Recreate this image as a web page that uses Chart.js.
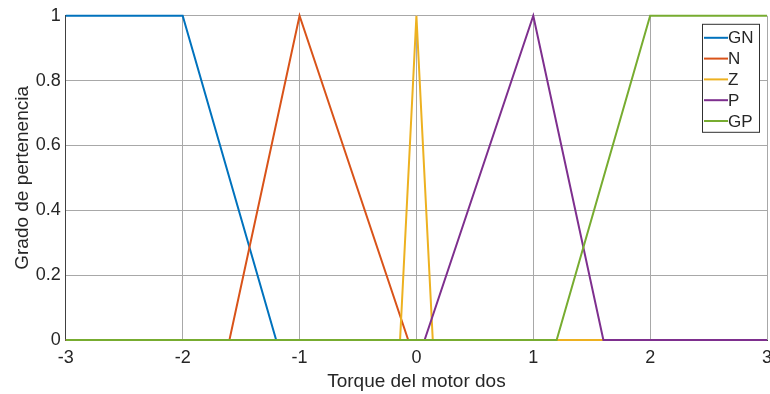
<!DOCTYPE html>
<html>
<head>
<meta charset="utf-8">
<script src="https://cdn.jsdelivr.net/npm/chart.js@4/dist/chart.umd.min.js"></script>
<style>
  html, body { margin: 0; padding: 0; background: #fff; overflow: hidden; }
  #myChart { display: block; }
</style>
</head>
<body>
<canvas id="myChart" width="770" height="394"></canvas>
<script>
// membership functions of "Torque del motor dos" (breakpoints)
var labels = ['GN', 'N', 'Z', 'P', 'GP'];
var gnX = [-3, -2, -1.2, 3];
var gnY = [1, 1, 0, 0];
var nX = [-3, -1.6, -1, -0.07, 3];
var nY = [0, 0, 1, 0, 0];
var zX = [-3, -0.14, 0, 0.14, 3];
var zY = [0, 0, 1, 0, 0];
var pX = [-3, 0.07, 1, 1.6, 3];
var pY = [0, 0, 1, 0, 0];
var gpX = [-3, 1.2, 2, 3];
var gpY = [0, 0, 1, 1];
var xTicks = [-3, -2, -1, 0, 1, 2, 3];
var yTicks = [0, 0.2, 0.4, 0.6, 0.8, 1];

var colors = ['#0072BD', '#D95319', '#EDB120', '#7E2F8E', '#77AC30'];
var FONT = '"Liberation Sans", Arial, sans-serif';

function toPoints(xs, ys) {
  var pts = [];
  for (var i = 0; i < xs.length; i++) {
    pts.push({ x: xs[i], y: ys[i] });
  }
  return pts;
}

var series = [[gnX, gnY], [nX, nY], [zX, zY], [pX, pY], [gpX, gpY]];
var datasets = series.map(function(s, i) {
  return {
    label: labels[i],
    data: toPoints(s[0], s[1]),
    borderColor: colors[i],
    backgroundColor: colors[i],
    borderWidth: 2,
    pointRadius: 0,
    showLine: true,
    fill: false,
    tension: 0,
    clip: false,
    // later curves are painted over the earlier ones
    order: series.length - i
  };
});

/* boxed legend in the top right corner of the plot */
var boxLegend = {
  id: 'boxLegend',
  afterDraw: function(chart) {
    var ctx = chart.ctx;
    var area = chart.chartArea;
    var w = 57, h = 108;
    var x0 = area.right - 65, y0 = area.top + 8;
    ctx.save();
    ctx.fillStyle = '#fff';
    ctx.fillRect(x0, y0, w, h);
    ctx.strokeStyle = '#303030';
    ctx.lineWidth = 1;
    ctx.strokeRect(x0 + 0.5, y0 + 0.5, w, h);
    ctx.font = '17px ' + FONT;
    ctx.textBaseline = 'middle';
    chart.data.datasets.forEach(function(ds, i) {
      var yy = y0 + 14 + i * 20.8;
      ctx.strokeStyle = ds.borderColor;
      ctx.lineWidth = 2;
      ctx.beginPath();
      ctx.moveTo(x0 + 2, yy);
      ctx.lineTo(x0 + 26, yy);
      ctx.stroke();
      ctx.fillStyle = '#262626';
      ctx.fillText(ds.label, x0 + 26, yy + 1);
    });
    ctx.restore();
  }
};

function tickText(value) {
  return String(Math.round(value * 10) / 10);
}

var ctx = document.getElementById('myChart').getContext('2d');
var myChart = new Chart(ctx, {
  type: 'scatter',
  data: { datasets: datasets },
  plugins: [boxLegend],
  options: {
    responsive: false,
    animation: false,
    layout: { padding: { left: 11, right: 0, top: 4, bottom: 3 } },
    plugins: {
      legend: { display: false },
      tooltip: { enabled: false }
    },
    scales: {
      x: {
        type: 'linear',
        min: -3,
        max: 3,
        afterBuildTicks: function(scale) {
          scale.ticks = xTicks.map(function(v) { return { value: v }; });
        },
        afterFit: function(scale) {
          scale.paddingRight = 3;
        },
        grid: { color: '#a8a8a8', lineWidth: 1, drawTicks: false },
        border: { display: true, color: '#404040' },
        ticks: {
          color: '#262626',
          padding: 9,
          maxRotation: 0,
          callback: tickText,
          font: { family: FONT, size: 18, lineHeight: 1 }
        },
        title: {
          display: true,
          text: 'Torque del motor dos',
          color: '#262626',
          padding: { top: -4, bottom: 0 },
          font: { family: FONT, size: 19, lineHeight: 1 }
        }
      },
      y: {
        min: 0,
        max: 1,
        afterBuildTicks: function(scale) {
          scale.ticks = yTicks.map(function(v) { return { value: v }; });
        },
        grid: { color: '#a8a8a8', lineWidth: 1, drawTicks: false },
        border: { display: true, color: '#404040' },
        ticks: {
          color: '#262626',
          padding: 5,
          callback: tickText,
          font: { family: FONT, size: 18 }
        },
        title: {
          display: true,
          text: 'Grado de pertenencia',
          color: '#262626',
          padding: { top: 0, bottom: -3 },
          font: { family: FONT, size: 19 }
        }
      }
    }
  }
});
</script>
</body>
</html>
